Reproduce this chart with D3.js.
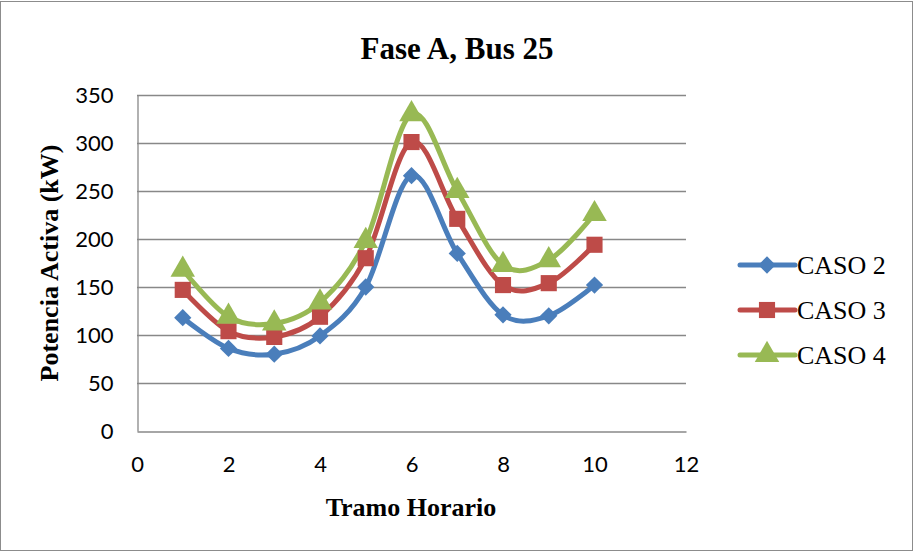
<!DOCTYPE html>
<html><head><meta charset="utf-8">
<script src="https://cdn.jsdelivr.net/npm/d3@7"></script>
<style>body{margin:0;background:#fff}svg{display:block}</style>
</head><body>
<svg id="c" width="914" height="552"></svg>
<script>
const hours = [1,2,3,4,5,6,7,8,9,10];
const caso2 = [118,86,80,99,150,266,185,121,120,152];
const caso3 = [147,104,98,119,180,301,221,152,154,194];
const caso4 = [168,119,112,134,198,330,250,173,178,226];
const seriesNames = ["CASO 2","CASO 3","CASO 4"];
const xTicks = [0,2,4,6,8,10,12];
const yTicks = [0,50,100,150,200,250,300,350];
const colors = ["#4a7ebb","#be4b48","#98b954"];
const symbols = [d3.symbolDiamond2, d3.symbolSquare, d3.symbolTriangle];

const svg = d3.select("#c");
svg.append("rect").attr("x",0.5).attr("y",1.5).attr("width",912).attr("height",549)
  .attr("fill","#fff").attr("stroke","#8c8c8c").attr("stroke-width",1);

const L=137,R=686,T=95,B=431;
const x = d3.scaleLinear().domain([0,12]).range([L,R]);
const y = d3.scaleLinear().domain([0,350]).range([B,T]);
const serif = "'Liberation Serif', 'Times New Roman', serif";
const sans = "Lato, 'Open Sans', sans-serif";

svg.append("g").selectAll("line").data(yTicks.filter(d=>d>0)).join("line")
  .attr("x1",L).attr("x2",R).attr("y1",d=>y(d)+0.5).attr("y2",d=>y(d)+0.5)
  .attr("stroke","#888").attr("stroke-width",1.3);

const yAxis = svg.append("g").attr("transform",`translate(${L+0.5},0)`)
  .call(d3.axisLeft(y).tickValues(yTicks).tickSize(0).tickPadding(24));
yAxis.select(".domain").attr("stroke","#888").attr("stroke-width",1.3);
yAxis.selectAll("text").attr("font-family",sans).attr("font-size",22).attr("fill","#000");

const xAxis = svg.append("g").attr("transform",`translate(0,${B+0.5})`)
  .call(d3.axisBottom(x).tickValues(xTicks).tickSize(0).tickPadding(25));
xAxis.select(".domain").attr("stroke","#888").attr("stroke-width",1.3);
xAxis.selectAll("text").attr("font-family",sans).attr("font-size",22).attr("fill","#000");

svg.append("text").attr("x",457).attr("y",59).attr("text-anchor","middle")
  .attr("font-family",serif).attr("font-weight","bold")
  .attr("font-size",31).text("Fase A, Bus 25");
svg.append("text").attr("x",411).attr("y",516).attr("text-anchor","middle")
  .attr("font-family",serif).attr("font-weight","bold")
  .attr("font-size",26).text("Tramo Horario");
svg.append("text").attr("transform","translate(58,263) rotate(-90)").attr("text-anchor","middle")
  .attr("font-family",serif).attr("font-weight","bold")
  .attr("font-size",26).text("Potencia Activa (kW)");

const data = [caso2,caso3,caso4];
const line = d3.line().x((d,i)=>x(hours[i])).y(d=>y(d)).curve(d3.curveCatmullRom.alpha(0));
const sizes = [190,260,260];

data.forEach((vals,k)=>{
  svg.append("path").datum(vals).attr("d",line).attr("fill","none")
    .attr("stroke",colors[k]).attr("stroke-width",5).attr("stroke-linecap","round").attr("stroke-linejoin","round");
});
data.forEach((vals,k)=>{
  svg.append("g").selectAll("path").data(vals).join("path")
    .attr("transform",(d,i)=>`translate(${x(hours[i])},${y(d)})`)
    .attr("d",d3.symbol().type(symbols[k]).size(sizes[k])).attr("fill",colors[k]);
});

const lg = svg.append("g");
seriesNames.forEach((n,k)=>{
  const yy = 265 + k*45;
  lg.append("line").attr("x1",740).attr("x2",795).attr("y1",yy).attr("y2",yy)
    .attr("stroke",colors[k]).attr("stroke-width",5).attr("stroke-linecap","round");
  lg.append("path").attr("transform",`translate(767,${yy})`)
    .attr("d",d3.symbol().type(symbols[k]).size(sizes[k])).attr("fill",colors[k]);
  lg.append("text").attr("x",797).attr("y",yy+9)
    .attr("font-family",serif).attr("font-size",26).text(n);
});
</script>
</body></html>
